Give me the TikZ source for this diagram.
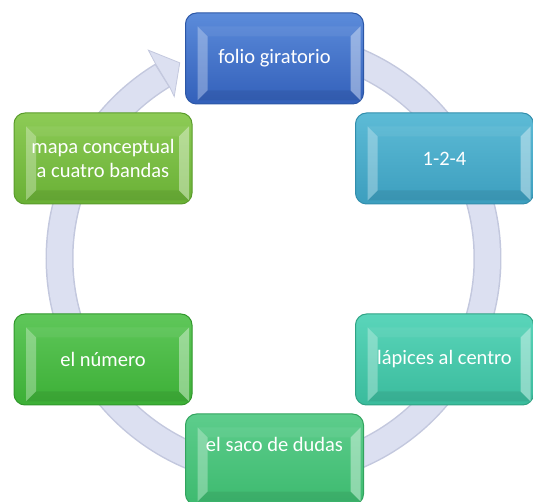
\documentclass[tikz,border=0pt]{standalone}
\usepackage{fontspec}
\setmainfont{Carlito}
\definecolor{ringedge}{HTML}{C3C8DE}
\definecolor{ringfill}{HTML}{DCE0F1}
\definecolor{bluetop}{HTML}{5B8BDA}
\definecolor{bluebot}{HTML}{3360BA}
\definecolor{blueedge}{HTML}{2C57A6}
\definecolor{cyantop}{HTML}{5DBBD6}
\definecolor{cyanbot}{HTML}{3C9EBE}
\definecolor{cyanedge}{HTML}{328EAC}
\definecolor{tealtop}{HTML}{5AD5BA}
\definecolor{tealbot}{HTML}{3ABB9C}
\definecolor{tealedge}{HTML}{2FA384}
\definecolor{sgrtop}{HTML}{5DCD8C}
\definecolor{sgrbot}{HTML}{3DBA6F}
\definecolor{sgredge}{HTML}{32A45E}
\definecolor{grtop}{HTML}{5FC75A}
\definecolor{grbot}{HTML}{3CAF36}
\definecolor{gredge}{HTML}{31982C}
\definecolor{lgtop}{HTML}{8DCB56}
\definecolor{lgbot}{HTML}{69B035}
\definecolor{lgedge}{HTML}{5A9C2B}
\newcommand\boxbevel[1]{%
  \begin{scope}[shift={(#1.center)}]
    \fill[white,opacity=0.30] (-77,32) -- (-67,22) -- (-67,-32) -- (-77,-42) -- cycle;
    \fill[white,opacity=0.40] (86,32) -- (76,22) -- (76,-32) -- (86,-42) -- cycle;
    \fill[black,opacity=0.07] (-67,-32) -- (76,-32) -- (86,-42) -- (-77,-42) -- cycle;
    \fill[white,opacity=0.06] (-77,32) -- (86,32) -- (76,22) -- (-67,22) -- cycle;
  \end{scope}}
\begin{document}
\begin{tikzpicture}[x=1pt,y=1pt,
  box/.style n args={3}{rectangle, rounded corners=11pt, minimum width=178pt,
    minimum height=91pt, inner sep=2pt, draw=#3, line width=1pt,
    top color=#1, bottom color=#2,
    text=white, align=center, font=\fontsize{20.5}{24.5}\selectfont},
  boxtext/.style={text=white, align=center, inner sep=0pt, font=\fontsize{20.5}{24.5}\selectfont}]
\useasboundingbox (0,0) rectangle (533,501);
\clip (0,0) rectangle (533,501);
\coordinate (c) at (273.5,242.5);
% ring with arrow
\begin{scope}[shift={(c)}]
  \draw[line width=28pt, ringedge] (92:214) arc[start angle=92, end angle=-239, radius=214];
  \draw[line width=25pt, ringfill] (92:214) arc[start angle=92, end angle=-238.5, radius=214];
  \filldraw[fill=ringfill, draw=ringedge, line width=0.8pt, line join=miter]
    (121:243) -- (115.6:217) -- (121.5:190) -- (121.2:200) -- (121.2:228) -- cycle;
\end{scope}
% boxes
\node[box={bluetop}{bluebot}{blueedge}] (folio) at (274.5,442.5) {folio giratorio};
\boxbevel{folio}
\node[box={cyantop}{cyanbot}{cyanedge}] (uno) at (444.5,342.5) {1-2-4};
\boxbevel{uno}
\node[box={tealtop}{tealbot}{tealedge}] (lapices) at (444.5,141.5) {lápices al centro};
\boxbevel{lapices}
\node[box={sgrtop}{sgrbot}{sgredge}] (saco) at (274.5,41.5) {};
\boxbevel{saco}
\node[boxtext] (sacotext) at ([yshift=15pt]saco.center) {el saco de dudas};
\node[box={grtop}{grbot}{gredge}] (numero) at (103,141.5) {el número};
\boxbevel{numero}
\node[box={lgtop}{lgbot}{lgedge}] (mapa) at (103,342.5) {mapa conceptual\\a cuatro bandas};
\boxbevel{mapa}
\end{tikzpicture}
\end{document}
